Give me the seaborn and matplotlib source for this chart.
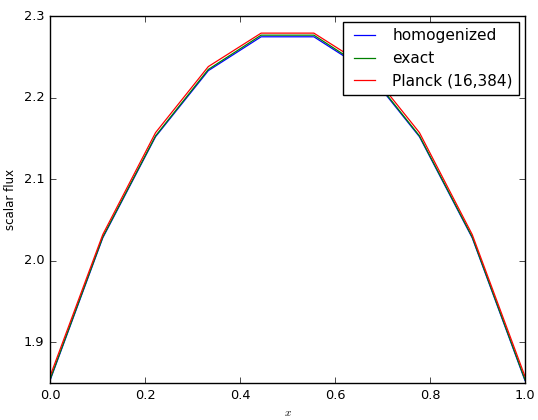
import numpy as np
import pandas as pd
import matplotlib
matplotlib.use("Agg")
import matplotlib.pyplot as plt
import seaborn as sns

x_vals = [0.0, 1/9, 2/9, 3/9, 4/9, 5/9, 6/9, 7/9, 8/9, 1.0]
homogenized = [1.853, 2.028, 2.152, 2.233, 2.2745, 2.2745, 2.233, 2.152, 2.028, 1.853]
exact = [1.854, 2.029, 2.153, 2.2345, 2.2765, 2.2765, 2.2345, 2.153, 2.029, 1.854]
planck = [1.858, 2.032, 2.157, 2.238, 2.279, 2.279, 2.238, 2.157, 2.032, 1.858]
series_names = ["homogenized", "exact", "Planck (16,384)"]
colors = ["b", "g", "r"]

plt.style.use("classic")
plt.rcParams["font.size"] = 8.07
plt.rcParams["font.family"] = ["DejaVu Sans"]
plt.rcParams["xtick.labelsize"] = 9.3
plt.rcParams["ytick.labelsize"] = 9.3

df = pd.DataFrame({
    "x": x_vals * 3,
    "flux": homogenized + exact + planck,
    "method": [series_names[0]] * 10 + [series_names[1]] * 10 + [series_names[2]] * 10,
})

fig = plt.figure(figsize=(5.38, 4.2), dpi=100, facecolor="white")
ax = fig.add_axes([50/538, 1 - 383/420, (525-50)/538, (383-16)/420])
sns.lineplot(data=df, x="x", y="flux", hue="method", palette=colors,
             hue_order=series_names, sort=False, lw=0.9, ax=ax, estimator=None)
ax.set_xlim(0, 1)
ax.set_ylim(1.85, 2.3)
ax.set_yticks([1.9, 2.0, 2.1, 2.2, 2.3])
ax.set_xticks([0.0, 0.2, 0.4, 0.6, 0.8, 1.0])
ax.set_xlabel("$x$")
ax.set_ylabel("scalar flux", fontsize=8.5)
handles, labels = ax.get_legend_handles_labels()
ax.legend(handles, labels, loc="upper right", fontsize=11.1, borderaxespad=0.4)
fig.savefig("out.png", dpi=100, facecolor="white")
